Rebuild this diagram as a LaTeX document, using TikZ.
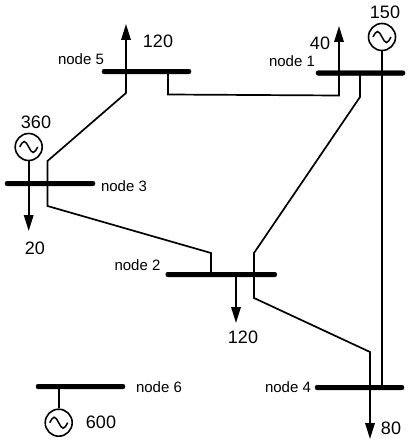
\documentclass[tikz,border=0pt]{standalone}
\usepackage{fontspec}
\setmainfont{Liberation Sans}
\usetikzlibrary{positioning,arrows.meta,calc}
\begin{document}
\begin{tikzpicture}[
  x=1pt, y=-1pt,
  bus/.style={draw, fill=black, rounded corners=2pt, minimum height=4.6pt, inner sep=0pt, line width=0.4pt},
  gen/.style={draw, circle, line width=1.6pt, minimum size=27pt, inner sep=0pt, fill=white,
    path picture={\draw[line width=1.5pt] (path picture bounding box.center) ++(-9,0)
      sin ++(4.5,-5.5) cos ++(4.5,5.5) sin ++(4.5,5.5) cos ++(4.5,-5.5);}},
  wire/.style={line width=1.7pt, line join=miter},
  arr/.style={wire, -{Stealth[length=16pt, width=9.5pt, inset=0pt]}},
  lbl/.style={font=\fontsize{15}{18}\selectfont, inner sep=0pt},
  val/.style={font=\fontsize{18}{21}\selectfont, inner sep=0pt}
]
\useasboundingbox (0,0) rectangle (410,444);
% buses
\node[bus, minimum width=89pt] (bus5) at (146.5,71.5) {};
\node[bus, minimum width=89pt] (bus1) at (360.5,73) {};
\node[bus, minimum width=90pt] (bus3) at (50,183.5) {};
\node[bus, minimum width=111pt] (bus2) at (221.3,274.5) {};
\node[bus, minimum width=89pt] (bus4) at (359.5,387.5) {};
\node[bus, minimum width=89pt] (bus6) at (80.5,386.5) {};
% generators
\node[gen] (gen1) at (382,37) {};
\node[gen] (gen3) at (28.7,147) {};
\node[gen] (gen6) at (58.7,422.7) {};
% bend points and arrow ends
\coordinate (c5a) at (126,93);
\coordinate (c3a) at (47.5,161);
\coordinate (c3b) at (47.5,206);
\coordinate (c2a) at (211,253);
\coordinate (c5b) at (168,94.5);
\coordinate (c1a) at (339,95.5);
\coordinate (c1b) at (360,97);
\coordinate (c2b) at (254,253);
\coordinate (c2c) at (254,298);
\coordinate (c4a) at (370,352);
\coordinate (end5) at (126,24);
\coordinate (end1) at (339,26);
\coordinate (end3) at (28.7,231);
\coordinate (end2) at (236,323);
\coordinate (end4) at (370,439);
% lines
\draw[wire] (bus5 -| c5a) -- (c5a) -- (c3a) -- (c3b) -- (c2a) -- (bus2 -| c2a);
\draw[wire] (bus5 -| c5b) -- (c5b) -- (c1a) -- (bus1 -| c1a);
\draw[wire] (bus1 -| c1b) -- (c1b) -- (c2b) -- (c2c) -- (c4a) -- (bus4 -| c4a);
\draw[wire] (gen1) -- (bus4 -| gen1);
\draw[wire] (gen6) -- (bus6 -| gen6);
% loads
\draw[arr] (bus5 -| end5) -- (end5);
\draw[arr] (bus1 -| end1) -- (end1);
\draw[arr] (gen3) -- (end3);
\draw[arr] (bus2 -| end2) -- (end2);
\draw[arr] (bus4 -| end4) -- (end4);
% labels
\node[lbl] (name5) at (81,59) {node 5};
\node[lbl] (name1) at (292,61) {node 1};
\node[lbl] (name3) at (124,186) {node 3};
\node[lbl] (name2) at (137.5,265) {node 2};
\node[lbl] (name6) at (159,387) {node 6};
\node[lbl] (name4) at (288,387) {node 4};
\node[val] (val5) at (158,41) {120};
\node[val] (val1) at (320,43) {40};
\node[val] (valg1) at (385,12) {150};
\node[val] (valg3) at (36,122) {360};
\node[val] (val3) at (35,248) {20};
\node[val] (val2) at (243,337) {120};
\node[val] (val4) at (391,428) {80};
\node[val] (valg6) at (101,422) {600};
\end{tikzpicture}
\end{document}
